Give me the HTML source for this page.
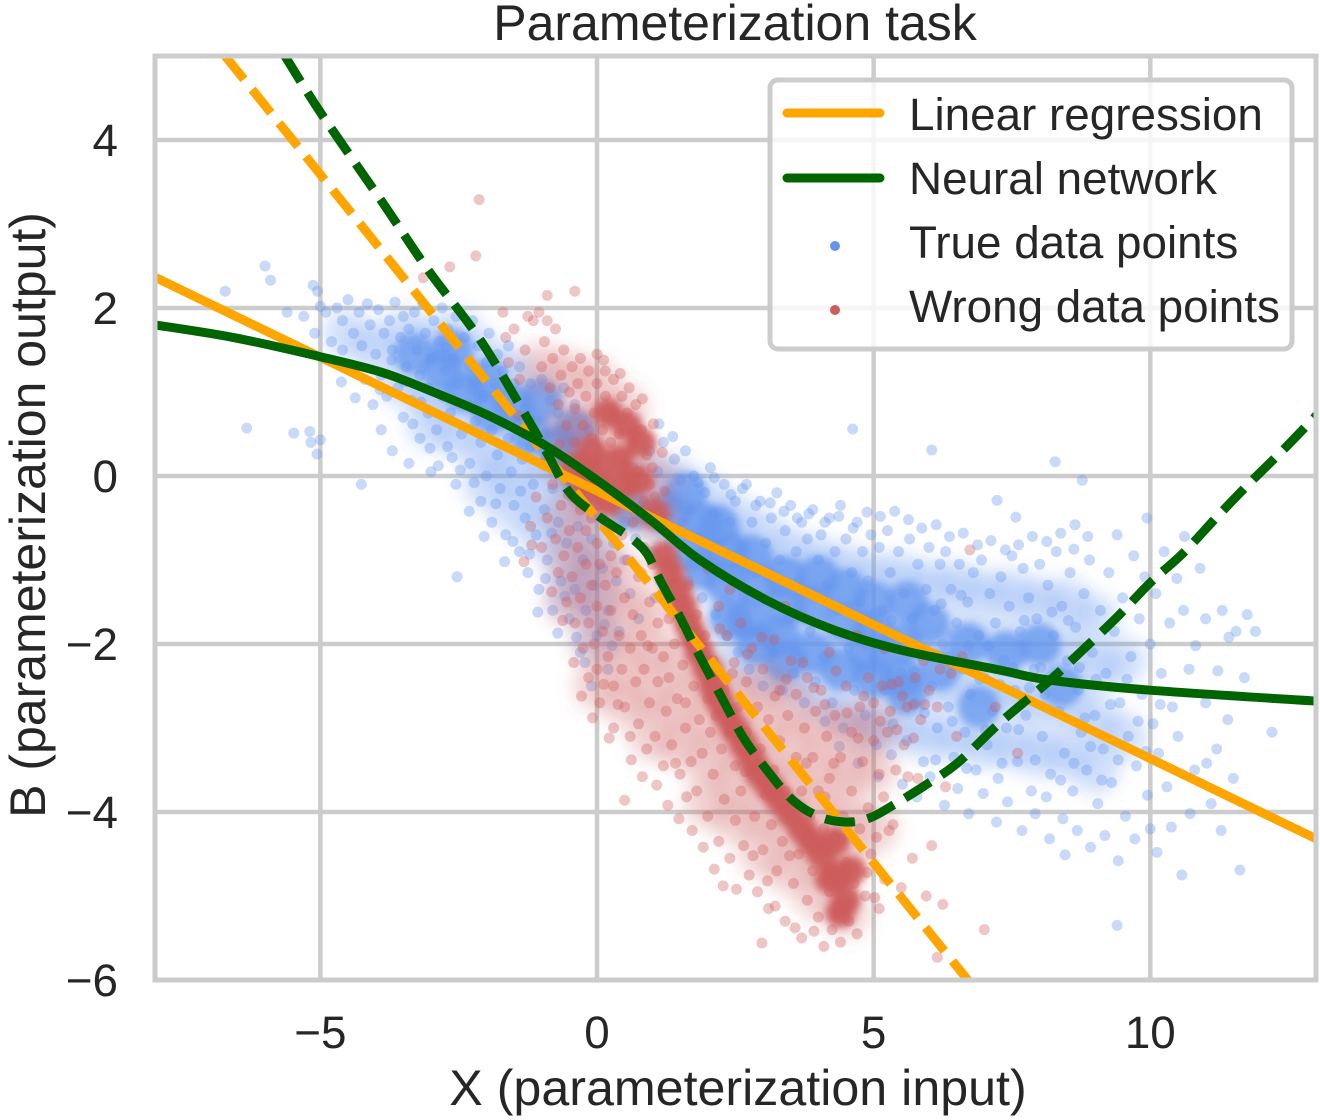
<!DOCTYPE html>
<html lang="en">
<head>
<meta charset="utf-8">
<title>Parameterization task</title>
<style>
html,body{margin:0;padding:0;background:#fff;}
svg{display:block;}
text{font-family:"Liberation Sans",Arial,sans-serif;fill:#262626;}
</style>
</head>
<body>
<svg id="chart" width="1320" height="1120" viewBox="0 0 1320 1120" xmlns="http://www.w3.org/2000/svg">
<defs>
<clipPath id="plot-clip"><rect x="155" y="56" width="1161" height="924"/></clipPath>
<filter id="soft" x="-10%" y="-10%" width="120%" height="120%"><feGaussianBlur stdDeviation="4"/></filter>
<filter id="softer" x="-10%" y="-10%" width="120%" height="120%"><feGaussianBlur stdDeviation="9"/></filter>
</defs>
<text x="735" y="40" font-size="50" text-anchor="middle">Parameterization task</text>
<g id="grid"></g>
<g id="marks" clip-path="url(#plot-clip)"></g>
<g id="spines" fill="none" stroke="#cccccc" stroke-width="5">
<rect x="155" y="56" width="1161" height="924"/>
</g>
<g id="ticks"></g>
<text x="738" y="1105" font-size="50.2" text-anchor="middle">X (parameterization input)</text>
<text transform="translate(45 515) rotate(-90)" font-size="50" text-anchor="middle">B (parameterization output)</text>
<g>
<rect x="770" y="80" width="522" height="269" rx="8" ry="8" fill="#ffffff" fill-opacity="0.8" stroke="#cccccc" stroke-width="5"/>
<line x1="787" y1="113" x2="880" y2="113" stroke="#FFA500" stroke-width="9" stroke-linecap="round"/>
<text x="909" y="130" font-size="45.8">Linear regression</text>
<line x1="787" y1="178" x2="880" y2="178" stroke="#006400" stroke-width="9" stroke-linecap="round"/>
<text x="909" y="194" font-size="45.8">Neural network</text>
<circle cx="835" cy="246" r="5" fill="#6495ED"/>
<text x="909" y="258" font-size="45.8">True data points</text>
<circle cx="835" cy="310" r="5" fill="#CD5C5C"/>
<text x="909" y="322" font-size="45.8">Wrong data points</text>
</g>
</svg>
<script>
const xTicks = [-5, 0, 5, 10];
const yTicks = [4, 2, 0, -2, -4, -6];

const linearSolidX = [-8, 13];
const linearSolidY = [2.37, -4.32];
const linearDashedX = [-6.72, 6.7];
const linearDashedY = [5, -6];

const neuralSolidX = [-8, -6.58, -5, -3.87, -2.96, -2.06, -1.45, -0.85, 0, 0.96, 1.86, 3.07, 4.27, 5.48, 7.28, 8.19, 10, 13];
const neuralSolidY = [1.8, 1.65, 1.42, 1.23, 1.0, 0.75, 0.55, 0.33, -0.05, -0.52, -1.0, -1.48, -1.83, -2.07, -2.31, -2.43, -2.55, -2.68];
const neuralDashedX = [-5.64, -5, -3.87, -3.05, -2.11, -1.27, -0.9, -0.49, 0.05, 0.6, 0.9, 1.14, 1.5, 1.86, 2.28, 2.64, 3.07, 3.54, 4.03, 4.52, 4.93, 5.35, 5.89, 6.51, 7.28, 8.19, 8.78, 9.4, 10, 10.59, 11.2, 11.8, 12.4, 13];
const neuralDashedY = [5, 4.33, 3.25, 2.45, 1.62, 0.7, 0.27, -0.2, -0.49, -0.73, -0.92, -1.24, -1.68, -2.15, -2.67, -3.11, -3.5, -3.86, -4.06, -4.12, -4.07, -3.92, -3.7, -3.42, -2.94, -2.43, -2.07, -1.68, -1.27, -0.92, -0.49, -0.08, 0.31, 0.72];

/* broad, medium-density extent of each overplotted cloud */
const trueBroad = [[-4.5,1.7],[-4,1.5],[-3.5,1.7],[-3.5,1.1],[-3,1.6],[-3,1.0],[-3,0.6],[-2.5,1.7],[-2.5,1.1],[-2.5,0.5],[-2,1.4],[-2,0.9],[-2,0.3],[-2,-0.1],[-1.5,1.2],[-1.5,0.6],[-1.5,0.1],[-1.5,-0.4],[-1,0.9],[-1,0.3],[-1,-0.2],[-1,-0.7],[-0.5,0.5],[-0.5,0],[-0.5,-0.5],[-0.5,-1],[-0.5,-1.4],[0,-0.3],[0,-0.9],[0,-1.4],[0,-1.9],[1,0],[1,-0.5],[1.5,-0.1],[1.5,-0.6],[2,-0.3],[2,-0.7],[2,-1.3],[2.5,-0.5],[2.5,-1],[2.5,-1.6],[2.5,-2.1],[3,-0.7],[3,-1.2],[3,-1.8],[3,-2.3],[3.5,-0.9],[3.5,-1.3],[3.5,-1.9],[3.5,-2.4],[4,-1],[4,-1.5],[4,-2.1],[4,-2.6],[4.5,-1.1],[4.5,-1.6],[4.5,-2.2],[4.5,-2.8],[5,-1.2],[5,-1.8],[5,-2.4],[5,-3],[5.5,-1.2],[5.5,-1.8],[5.5,-2.4],[5.5,-3],[6,-1.3],[6,-1.9],[6,-2.5],[6,-3.1],[6.5,-1.3],[6.5,-1.9],[6.5,-2.5],[6.5,-3.1],[7,-1.4],[7,-2],[7,-2.6],[7,-3.2],[7.5,-1.4],[7.5,-2],[7.5,-2.6],[7.5,-3.2],[8,-1.5],[8,-2.1],[8,-2.7],[8,-3.3],[8.5,-1.5],[8.5,-2.1],[8.5,-2.7],[8.5,-3.3],[9,-1.7],[9,-2.3],[9,-2.9],[9,-3.5],[9.5,-2.2],[9.5,-3.1]];
const wrongBroad = [[-1,1.3],[-0.5,1.2],[-0.5,0.6],[-0.5,0.1],[0,1.1],[0,0.6],[0,0.1],[0,-0.4],[0.5,0.8],[0.5,0.3],[0.5,-0.2],[1,0],[1,-0.5],[-0.5,-0.5],[-0.5,-1],[-0.5,-1.5],[0,-1],[0,-1.5],[0,-2],[0,-2.5],[0.5,-1.2],[0.5,-1.7],[0.5,-2.2],[0.5,-2.7],[1,-1.6],[1,-2.1],[1,-2.6],[1,-3.1],[1.5,-2.2],[1.5,-2.7],[1.5,-3.2],[2,-2.4],[2,-2.9],[2,-3.4],[2,-3.9],[2.5,-2.6],[2.5,-3.1],[2.5,-3.6],[2.5,-4.1],[3,-2.5],[3,-3],[3,-3.5],[3,-4],[3,-4.5],[3.5,-2.7],[3.5,-3.2],[3.5,-3.7],[3.5,-4.2],[3.5,-4.7],[4,-3],[4,-3.5],[4,-4],[4,-4.5],[4,-5],[4.5,-3],[4.5,-3.5],[4.5,-4],[4.5,-4.5],[4.5,-5.2],[5,-3],[5,-3.5],[5,-4.2]];

/* saturated centres of each cloud */
const trueDense = [[-3.3,1.45],[-2.8,1.25],[-2.4,1.0],[-2.6,1.5],[-2.0,1.15],[-1.9,0.75],[-1.5,0.85],[-1.2,0.5],[-1.0,0.9],[-0.7,0.35],[-0.4,0.55],[-0.3,0],[0.6,-0.4],[1.3,-0.45],[1.7,-0.9],[1.6,-0.2],[1.9,-1.1],[1.9,-0.55],[2.2,-0.6],[2.3,-1.25],[2.4,-1.7],[2.4,-0.9],[2.7,-1.7],[2.8,-0.95],[2.9,-1.3],[2.9,-2],[3.3,-1.9],[3.4,-1.2],[3.4,-1.55],[3.4,-2.2],[3.9,-2.1],[3.9,-1.55],[4,-1.2],[4.4,-2.3],[4.5,-1.75],[4.5,-1.35],[4.9,-2.1],[5,-2.4],[5,-1.85],[5,-1.5],[5.5,-2.0],[5.5,-2.4],[5.6,-2.6],[5.6,-1.5],[6,-1.75],[6.2,-2.3],[6.7,-2.0],[6.9,-2.75],[7.4,-2.1],[8,-2.0],[8.4,-2.5]];
const wrongDense = [[-0.1,0.3],[0.2,0.75],[0.4,0.2],[0.55,0.6],[-0.2,-0.2],[0.2,-0.3],[0.75,-0.05],[0.8,0.4],[-0.4,0.1],[0,0],[0.5,-0.1],[1.05,-0.45],[1.2,-0.95],[1.32,-1.15],[1.45,-1.35],[1.55,-1.55],[1.65,-1.75],[1.75,-1.92],[1.85,-2.1],[2,-2.3],[2.1,-2.5],[2.22,-2.68],[2.35,-2.85],[2.5,-3.02],[2.65,-3.2],[2.8,-3.38],[2.95,-3.55],[3.12,-3.7],[3.3,-3.85],[3.5,-4.02],[3.7,-4.2],[3.88,-4.35],[4.05,-4.5],[4.2,-4.8],[4.35,-4.75],[4.6,-4.7],[4.4,-5.2],[4.5,-5.05],[4.3,-4.35]];

const truePoints = [[-6,2.5],[-5.9,2.33],[-6.72,2.2],[-5.13,2.27],[-5.05,2.2],[-6.33,0.57],[-5.48,0.51],[-5.19,0.53],[-5,0.43],[-5.17,0.4],[-5.06,0.26],[-4.26,-0.1],[-5.6,1.95],[-5.3,1.9],[-5.1,1.7],[-4.9,1.95],[-4.8,1.6],[-5,2.02],[-4.7,2],[-4.6,1.5],[-4.6,1.85],[-4.5,2.1],[-4.4,1.7],[-4.4,1.3],[-4.3,1.95],[-4.25,1.55],[-4.2,1.15],[-4.15,2.05],[-4.1,1.8],[-4.05,0.85],[-4,1.45],[-3.95,1.98],[-3.9,0.55],[-3.9,1.2],[-3.85,1.7],[-3.8,0.95],[-3.75,1.85],[-3.7,0.3],[-3.7,1.5],[-3.65,2.07],[-3.6,1.05],[-3.55,1.65],[-3.5,0.7],[-3.5,1.9],[-3.45,1.3],[-3.4,0.15],[-3.4,1.75],[-3.35,0.9],[-3.3,1.95],[-3.25,1.5],[-3.2,0.45],[-3.2,1.2],[-3.15,2.05],[-3.1,1.7],[-3.05,0.75],[-3.05,1.05],[-3,1.4],[-3,0.05],[-2.95,1.85],[-2.9,0.55],[-2.85,1.6],[-2.8,0.95],[-2.8,2.0],[-2.75,1.25],[-2.7,0.35],[-2.7,1.75],[-2.65,0.75],[-2.6,1.4],[-2.55,-0.1],[-2.55,1.9],[-2.53,-1.2],[-2.5,1.1],[-2.45,0.5],[-2.4,1.65],[-2.35,0.85],[-2.3,1.3],[-2.3,0.15],[-2.25,1.85],[-2.2,0.65],[-2.2,1.1],[-2.15,1.55],[-2.1,-0.3],[-2.1,0.4],[-2.05,0.95],[-2,1.35],[-2,0],[-1.95,1.7],[-1.9,0.55],[-1.9,-0.55],[-1.85,1.1],[-1.8,0.25],[-1.8,1.45],[-1.75,-0.15],[-1.7,0.85],[-1.7,1.25],[-1.65,-0.7],[-1.6,0.45],[-1.6,1.55],[-1.55,0.05],[-1.5,1.1],[-1.5,-0.35],[-1.45,0.65],[-1.4,-0.9],[-1.4,1.3],[-1.35,0.2],[-1.3,0.8],[-1.3,-0.5],[-1.25,-1.15],[-1.2,0.35],[-1.2,1.1],[-1.15,-0.1],[-1.1,0.65],[-1.1,-0.7],[-1.05,-1.35],[-1,0.15],[-1,1.15],[-0.95,-0.4],[-0.9,0.5],[-0.9,-1],[-0.85,0.9],[-0.8,-0.15],[-0.8,-1.6],[-0.75,0.2],[-0.7,-0.55],[-0.7,0.75],[-0.65,-1.25],[-0.6,0.05],[-0.6,1.05],[-0.55,-0.8],[-0.5,0.4],[-0.5,-1.7],[-0.45,-0.25],[-0.4,0.85],[-0.4,-1.35],[-0.35,-0.6],[-0.3,0.25],[-0.3,-2.1],[-0.25,-1],[-0.2,-0.05],[-0.2,-1.6],[-0.15,0.55],[-0.1,-0.75],[-0.1,-2.5],[-0.05,-1.3],[0,0.1],[0,-1.9],[0.1,-0.5],[0.1,-1.1],[0.2,-1.6],[0.2,-2.3],[0.3,-0.8],[0.35,-1.25],[0.4,-1.85],[0.5,-0.55],[0.5,-1],[0.6,-1.4],[0.65,0.1],[0.7,-0.75],[0.75,-1.7],[0.8,-1.15],[0.9,-0.35],[0.95,0.3],[1,-0.9],[1.05,-1.45],[1.1,0.05],[1.15,-0.55],[1.2,0.4],[1.25,-0.2],[1.3,-0.8],[1.4,0.2],[1.45,-1],[1.5,-0.05],[1.55,-0.55],[1.6,0.3],[1.65,-1.25],[1.7,-0.4],[1.75,0],[1.8,-0.75],[1.9,-1.45],[1.95,-0.2],[2,-1],[2.05,0.1],[2.1,-0.45],[2.15,-1.65],[2.2,-0.8],[2.3,-0.1],[2.35,-1.9],[2.4,-0.55],[2.45,-1.2],[2.5,-0.3],[2.55,-2.1],[2.6,-0.85],[2.65,-1.45],[2.7,-0.1],[2.75,-2.3],[2.8,-0.55],[2.85,-1.85],[2.9,-1.15],[2.95,-0.3],[3,-2.5],[3.05,-0.8],[3.1,-1.5],[3.15,-0.5],[3.2,-2.1],[3.25,-0.2],[3.3,-1],[3.35,-2.55],[3.4,-0.65],[3.45,-1.7],[3.5,-0.35],[3.55,-2.35],[3.6,-0.9],[3.65,-1.25],[3.7,-0.55],[3.75,-2.7],[3.8,-0.75],[3.85,-1.85],[3.9,-0.4],[3.95,-2.45],[4,-1],[4.05,-0.7],[4.1,-2.15],[4.15,-1.3],[4.2,-0.5],[4.25,-2.7],[4.3,-0.9],[4.35,-1.6],[4.4,-0.35],[4.45,-3],[4.5,-0.75],[4.55,-2.05],[4.6,-1.15],[4.62,0.56],[4.65,-2.55],[4.7,-0.55],[4.75,-1.5],[4.8,-0.9],[4.85,-2.85],[4.9,-1.25],[4.95,-0.7],[5,-2.15],[5.05,-3.2],[5.1,-0.85],[5.15,-1.6],[5.2,-2.55],[5.25,-0.65],[5.3,-1.15],[5.35,-2.95],[5.4,-1.9],[5.45,-0.9],[5.5,-2.35],[5.55,-1.4],[5.6,-3.15],[5.65,-0.75],[5.7,-1.7],[5.75,-2.7],[5.8,-1.05],[5.85,-2.15],[5.9,-3.4],[5.95,-1.35],[6,-0.85],[6.05,0.31],[6.05,-2.5],[6.1,-1.6],[6.15,-3],[6.2,-1.05],[6.25,-2],[6.3,-0.9],[6.35,-2.75],[6.4,-1.35],[6.45,-3.35],[6.5,-1.75],[6.55,-1.05],[6.6,-2.3],[6.65,-3.05],[6.7,-1.5],[6.75,-2.6],[6.8,-1.15],[6.85,-3.5],[6.9,-1.9],[6.95,-1],[7,-2.4],[7.05,-3.2],[7.1,-1.4],[7.15,-2.8],[7.2,-1.75],[7.23,-0.29],[7.25,-3.6],[7.3,-1.2],[7.35,-2.2],[7.4,-3],[7.45,-1.55],[7.5,-0.95],[7.55,-2.55],[7.57,-0.49],[7.6,-3.4],[7.65,-1.85],[7.7,-1.1],[7.75,-2.85],[7.8,-1.45],[7.85,-3.75],[7.9,-2.3],[7.95,-1.7],[8,-1.05],[8.05,-3.1],[8.1,-2.6],[8.15,-1.3],[8.2,-3.55],[8.25,-1.9],[8.28,0.17],[8.3,-0.9],[8.35,-2.8],[8.4,-1.55],[8.45,-3.3],[8.46,-4.51],[8.5,-2.2],[8.55,-1.15],[8.6,-3.75],[8.64,-0.58],[8.65,-1.8],[8.7,-2.55],[8.75,-3.05],[8.77,-0.05],[8.8,-1.4],[8.85,-3.5],[8.9,-1],[8.95,-2.1],[9,-2.85],[9.05,-3.9],[9.1,-1.6],[9.15,-3.25],[9.2,-2.35],[9.25,-1.15],[9.3,-3.65],[9.35,-1.85],[9.4,-0.7],[9.4,-5.35],[9.45,-2.7],[9.5,-1.45],[9.55,-4.05],[9.6,-3.1],[9.65,-2.15],[9.7,-0.95],[9.75,-3.45],[9.8,-1.7],[9.85,-2.6],[9.9,-1.2],[9.94,-0.5],[9.95,-3.8],[10,-2],[10,-4.2],[10.05,-2.95],[10.1,-1.4],[10.15,-3.3],[10.2,-2.35],[10.25,-0.9],[10.3,-3.7],[10.35,-1.75],[10.4,-2.75],[10.5,-3.1],[10.57,-4.75],[10.6,-1.6],[10.7,-2.3],[10.8,-3.5],[10.9,-1.1],[11,-2.7],[11,-1.7],[11.1,-3.9],[11.2,-3.25],[11.3,-1.6],[11.4,-2.9],[11.5,-3.6],[11.55,-1.85],[11.62,-4.69],[11.7,-2.4],[11.75,-1.65],[11.9,-1.85],[12.2,-3.05]];

const trueExtra = [[-4.62,1.12],[-4.37,0.93],[-3.92,1.03],[-3.71,1.38],[-3.48,1.12],[-3.33,0.62],[-3.18,0.88],[-3.02,0.33],[-2.87,0.12],[-2.73,1.52],[-2.62,0.22],[-2.47,0.07],[-2.31,-0.42],[-2.22,-0.08],[-2.04,-0.72],[-1.83,-0.33],[-1.67,-1.02],[-1.52,-0.78],[-1.38,-0.18],[-1.22,-0.93],[-1.07,-1.62],[-0.93,-1.22],[-0.82,-0.68],[-0.71,-1.87],[-0.58,-1.43],[-0.37,-1.92],[-0.22,-2.22],[0.13,-1.77],[0.27,-2.02],[1.12,0.62],[1.37,0.47],[1.83,-0.08],[2.12,-0.02],[2.42,-0.22],[2.63,-0.15],[2.87,-0.35],[3.13,-0.32],[3.38,-0.42],[3.62,-0.5],[3.83,-0.45],[4.12,-0.55],[4.37,-0.48],[4.63,-0.62],[4.88,-0.43],[5.12,-0.48],[5.38,-0.42],[5.63,-0.52],[5.87,-0.62],[6.13,-0.58],[6.37,-0.72],[6.62,-0.68],[6.88,-0.82],[7.12,-0.77],[7.38,-0.88],[7.62,-0.82],[7.87,-0.72],[8.13,-0.78],[8.38,-0.68],[8.62,-0.87],[8.87,-0.72],[4.12,-2.92],[4.38,-3.22],[4.72,-3.42],[5.08,-3.58],[5.32,-3.32],[5.52,-3.67],[5.78,-3.82],[6.02,-3.58],[6.28,-3.92],[6.52,-3.72],[6.72,-4.02],[6.98,-3.78],[7.22,-4.12],[7.42,-3.88],[7.68,-4.22],[7.92,-4.02],[8.18,-4.32],[8.42,-4.08],[8.68,-4.22],[8.92,-4.42],[9.18,-4.28],[9.42,-4.58],[9.72,-4.32],[10.12,-4.48],[10.38,-4.18],[10.72,-4.02],[11.02,-3.42],[11.22,-2.32],[11.42,-1.92],[11.28,-4.22],[10.62,-0.72],[10.48,-1.22],[10.82,-2.02],[7.08,-2.02],[7.28,-2.48],[7.52,-2.28],[7.72,-1.72],[7.82,-2.52],[8.02,-2.28],[8.22,-1.62],[8.32,-2.38],[8.52,-1.72],[8.72,-2.28],[8.82,-2.88],[9.02,-2.42],[9.12,-3.62],[9.28,-2.72],[9.42,-3.38],[9.58,-2.42],[9.78,-2.92],[9.92,-3.28],[10.18,-2.72],[6.22,-1.52],[6.38,-2.22],[6.58,-1.42],[6.72,-2.02],[6.92,-2.42],[5.32,-1.72],[5.72,-2.32],[5.92,-2.82],[6.12,-3.38],[6.42,-2.92],[6.68,-3.48],[7.02,-3.02],[7.32,-3.42],[7.62,-3.02],[7.92,-3.38],[8.12,-3.82],[8.38,-3.62],[8.62,-3.42],[8.92,-3.22]];

const wrongPoints = [[-2.13,3.29],[-2.19,2.62],[-2.66,2.49],[-3.14,2.36],[-0.9,2.15],[-0.4,2.2],[7,-5.4],[6.15,-5.73],[2.98,-5.56],[0.5,-3.86],[6.74,-0.88],[-1.7,1.95],[-1.65,1.65],[-1.6,1.35],[-1.5,1.75],[-1.4,1.15],[-1.3,1.5],[-1.25,1.9],[-1.15,1.85],[-1.05,1.95],[-1,1.3],[-0.95,1.6],[-0.9,1.85],[-0.85,1.05],[-0.8,1.4],[-0.75,1.75],[-0.7,0.85],[-0.65,1.2],[-0.6,1.5],[-0.55,0.6],[-0.5,1],[-0.45,1.3],[-0.4,0.4],[-0.4,0.8],[-0.35,1.1],[-0.3,1.4],[-0.25,0.15],[-0.25,0.6],[-0.2,0.95],[-0.15,1.25],[-0.1,0.45],[-0.1,-0.1],[-0.05,0.75],[0,1.45],[0,1.1],[0.05,0.2],[0.05,-0.35],[0.1,0.55],[0.15,0.95],[0.15,1.25],[0.2,0],[0.25,0.4],[0.3,1.15],[0.3,0.75],[0.35,-0.25],[0.4,0.5],[0.45,0.95],[0.5,0.15],[0.55,0.75],[0.6,-0.15],[0.65,0.4],[0.7,0.85],[0.75,0.05],[0.8,0.55],[0.85,-0.3],[0.9,0.25],[0.95,-0.1],[1,0.1],[1.05,-0.25],[1.1,-0.55],[-1.2,-0.6],[-1.1,-0.25],[-1,-0.85],[-0.9,-0.5],[-0.8,-0.1],[-0.75,-0.75],[-0.7,-1.15],[-0.65,-0.35],[-0.6,-0.95],[-0.55,-1.5],[-0.5,-0.65],[-0.45,-0.1],[-0.45,-1.2],[-0.4,-1.75],[-0.35,-0.85],[-0.3,-0.4],[-0.3,-1.45],[-0.25,-2.05],[-0.2,-0.65],[-0.2,-1.05],[-0.15,-1.75],[-0.15,-2.4],[-0.1,-0.5],[-0.1,-1.3],[-0.05,-2],[0,-0.8],[0,-1.55],[0,-2.3],[0.05,-1.05],[0.05,-2.7],[0.1,-1.85],[0.15,-0.6],[0.15,-1.3],[0.2,-2.15],[0.25,-0.95],[0.25,-1.6],[0.3,-2.5],[0.3,-3],[0.35,-1.15],[0.4,-1.9],[0.45,-0.7],[0.45,-2.3],[0.5,-1.45],[0.5,-2.75],[0.55,-1],[0.6,-2.05],[0.6,-3.1],[0.65,-0.55],[0.65,-1.65],[0.7,-2.45],[0.75,-1.2],[0.75,-2.95],[0.8,-1.9],[0.85,-0.85],[0.85,-2.3],[0.9,-3.25],[0.95,-1.5],[0.95,-2.7],[1,-2.05],[1,-1.05],[1.05,-3.1],[1.1,-1.75],[1.1,-2.45],[1.15,-1.25],[1.2,-3.45],[1.2,-2.15],[1.25,-2.8],[1.3,-1.7],[1.3,-2.4],[1.35,-3.2],[1.4,-1.1],[1.4,-2],[1.45,-2.65],[1.5,-3.55],[1.5,-1.55],[1.55,-2.25],[1.6,-3],[1.6,-2.7],[1.65,-1.3],[1.7,-3.4],[1.7,-2],[1.75,-2.5],[1.8,-3.75],[1.8,-1.65],[1.85,-2.9],[1.9,-2.25],[1.9,-3.3],[1.95,-1.9],[2,-2.65],[2,-4.05],[2.05,-3.05],[2.1,-2.2],[2.1,-3.55],[2.15,-2.85],[2.2,-4.35],[2.2,-1.55],[2.25,-3.25],[2.3,-2.55],[2.3,-3.85],[2.35,-1.9],[2.4,-3.05],[2.4,-4.55],[2.45,-2.35],[2.5,-3.45],[2.5,-4.1],[2.55,-2.75],[2.6,-3.75],[2.6,-1.75],[2.65,-4.4],[2.7,-2.45],[2.7,-3.05],[2.75,-4.75],[2.8,-3.55],[2.8,-2.05],[2.85,-4.05],[2.9,-2.75],[2.9,-4.95],[2.95,-3.25],[3,-4.45],[3,-2.3],[3.05,-3.8],[3.1,-5.15],[3.1,-2.9],[3.15,-4.15],[3.2,-1.95],[3.2,-3.5],[3.25,-4.7],[3.3,-2.55],[3.3,-3.15],[3.35,-4.35],[3.4,-5.3],[3.4,-3.75],[3.45,-2.85],[3.5,-4.05],[3.5,-2.2],[3.55,-4.85],[3.6,-3.35],[3.6,-2.6],[3.65,-4.5],[3.7,-5.5],[3.7,-3.75],[3.75,-3],[3.8,-5.05],[3.8,-2.4],[3.85,-4.05],[3.9,-3.35],[3.9,-4.7],[3.95,-2.8],[4,-5.25],[4,-3.75],[4.05,-2.55],[4.1,-4.2],[4.1,-5.6],[4.15,-3.1],[4.2,-4.95],[4.2,-3.6],[4.25,-5.4],[4.3,-2.85],[4.3,-4.3],[4.35,-5.2],[4.4,-3.35],[4.4,-5.55],[4.45,-4.05],[4.5,-2.5],[4.5,-4.6],[4.55,-5.3],[4.6,-3.05],[4.6,-3.75],[4.65,-4.85],[4.7,-5.45],[4.75,-2.75],[4.75,-4.2],[4.8,-3.4],[4.85,-5],[4.9,-2.4],[4.9,-3.95],[4.95,-4.5],[5,-3.15],[5,-2.7],[5.05,-4.3],[5.1,-5.15],[5.1,-3.55],[5.15,-2.5],[5.2,-4.8],[5.25,-3.05],[5.3,-2.8],[5.35,-4.15],[5.4,-3.5],[5.45,-2.45],[5.5,-4.9],[5.55,-3.2],[5.6,-2.75],[5.7,-4.55],[5.75,-2.4],[5.8,-3.6],[5.85,-2.9],[5.95,-5],[6,-2.55],[6.05,-4.4],[6.15,-2.75],[6.25,-5.1],[6.3,-3.7],[6.4,-2.35],[6.5,-3.1],[2,-1.1],[2.4,-1.35],[3.4,-1.55],[4.2,-2.1],[4.7,-1.9],[5.2,-2.05],[5.9,-2.2],[6.2,-2.3],[6.6,-2.15],[7.6,-3.3],[7.2,-2.75]];

const wrongExtra = [[-1.42,0.72],[-1.12,0.48],[-0.92,0.22],[-0.68,0.38],[-0.52,-0.22],[-0.32,0.12],[0.12,1.38],[0.42,1.22],[0.58,1.05],[0.82,0.92],[1.02,0.62],[1.18,0.28],[1.22,-0.18],[-1.32,-1.02],[-1.18,-0.82],[-0.82,-1.38],[-0.62,-1.72],[-0.42,-2.22],[-0.28,-2.62],[-0.08,-2.88],[0.12,-2.48],[0.22,-3.12],[0.38,-2.72],[0.62,-3.38],[0.82,-3.58],[0.92,-2.02],[1.08,-3.68],[1.28,-3.92],[1.48,-4.08],[1.42,-3.42],[1.62,-3.82],[1.72,-4.22],[1.92,-4.42],[2.12,-4.68],[2.28,-4.88],[2.52,-4.92],[2.68,-3.52],[2.82,-4.52],[3.08,-4.82],[3.22,-5.12],[3.48,-4.52],[3.58,-5.38],[3.78,-3.42],[3.92,-5.42],[4.12,-3.82],[4.28,-3.42],[4.42,-4.32],[4.58,-4.12],[4.72,-3.12],[4.88,-4.72],[5.02,-5.02],[5.18,-3.82],[5.28,-4.22],[5.42,-3.02],[5.62,-3.58],[5.72,-3.12],[5.92,-2.72],[2.22,-1.82],[2.48,-2.22],[2.72,-2.12],[2.98,-1.92],[3.22,-2.62],[3.42,-2.42],[3.72,-2.22],[3.92,-2.52],[4.12,-2.72],[4.32,-2.32],[4.52,-2.82],[4.82,-2.62],[5.12,-2.92],[5.32,-2.48],[5.52,-2.62],[5.72,-2.72]];

const SVG_NS = 'http://www.w3.org/2000/svg';
const xScale = v => 597 + v * 55.33;
const yScale = v => 476 - v * 84;
const fmt = v => String(v).replace('-', '\u2212');
const grid = document.getElementById('grid');
const ticks = document.getElementById('ticks');
const marks = document.getElementById('marks');

xTicks.forEach(v => {
  const l = document.createElementNS(SVG_NS, 'line');
  
  
  l.setAttribute('x1', xScale(v)); l.setAttribute('x2', xScale(v));
  l.setAttribute('y1', 56); l.setAttribute('y2', 980);
  l.setAttribute('stroke', '#cccccc'); l.setAttribute('stroke-width', 4.5);
  grid.appendChild(l);
  const t = document.createElementNS(SVG_NS, 'text');
  
  
  t.setAttribute('x', xScale(v)); t.setAttribute('y', 1048);
  t.setAttribute('font-size', 45.8); t.setAttribute('text-anchor', 'middle');
  t.textContent = fmt(v);
  ticks.appendChild(t);
});
yTicks.forEach(v => {
  const l = document.createElementNS(SVG_NS, 'line');
  
  
  l.setAttribute('x1', 155); l.setAttribute('x2', 1316);
  l.setAttribute('y1', yScale(v)); l.setAttribute('y2', yScale(v));
  l.setAttribute('stroke', '#cccccc'); l.setAttribute('stroke-width', 4.5);
  grid.appendChild(l);
  const t = document.createElementNS(SVG_NS, 'text');
  
  
  t.setAttribute('x', 118); t.setAttribute('y', yScale(v) + 16);
  t.setAttribute('font-size', 45.8); t.setAttribute('text-anchor', 'end');
  t.textContent = fmt(v);
  ticks.appendChild(t);
});

function drawCloud(points, color, radius, opacity, filterId) {
  const g = document.createElementNS(SVG_NS, 'g');
  
  
  g.setAttribute('filter', 'url(#' + filterId + ')');
  points.forEach(p => {
    const c = document.createElementNS(SVG_NS, 'circle');
    
    
    c.setAttribute('cx', xScale(p[0])); c.setAttribute('cy', yScale(p[1]));
    c.setAttribute('r', radius); c.setAttribute('fill', color); c.setAttribute('fill-opacity', opacity);
    g.appendChild(c);
  });
  marks.appendChild(g);
}
function drawScatter(points, color) {
  const g = document.createElementNS(SVG_NS, 'g');
  
  
  points.forEach(p => {
    const c = document.createElementNS(SVG_NS, 'circle');
    
    
    c.setAttribute('cx', xScale(p[0])); c.setAttribute('cy', yScale(p[1]));
    c.setAttribute('r', 5.5); c.setAttribute('fill', color); c.setAttribute('fill-opacity', 0.35);
    g.appendChild(c);
  });
  marks.appendChild(g);
}
function smoothPath(xs, ys) {
  const px = xs.map(xScale), py = ys.map(yScale);
  let d = 'M' + px[0] + ' ' + py[0];
  for (let i = 0; i < px.length - 1; i++) {
    const a = Math.max(i - 1, 0), b = Math.min(i + 2, px.length - 1);
    const c1x = px[i] + (px[i + 1] - px[a]) / 6, c1y = py[i] + (py[i + 1] - py[a]) / 6;
    const c2x = px[i + 1] - (px[b] - px[i]) / 6, c2y = py[i + 1] - (py[b] - py[i]) / 6;
    d += ' C' + c1x + ' ' + c1y + ' ' + c2x + ' ' + c2y + ' ' + px[i + 1] + ' ' + py[i + 1];
  }
  return d;
}
function drawLine(xs, ys, color, dashed) {
  const p = document.createElementNS(SVG_NS, 'path');
  
  
  p.setAttribute('d', smoothPath(xs, ys));
  p.setAttribute('fill', 'none');
  p.setAttribute('stroke', color);
  p.setAttribute('stroke-width', 9);
  if (dashed) p.setAttribute('stroke-dasharray', '30 13');
  marks.appendChild(p);
}
drawCloud(trueBroad, '#6495ED', 24, 0.3, 'softer');
drawCloud(trueDense, '#6495ED', 21, 0.75, 'soft');
drawScatter(truePoints, '#6495ED');
drawScatter(trueExtra, '#6495ED');
drawCloud(wrongBroad, '#CD5C5C', 24, 0.28, 'softer');
drawCloud(wrongDense, '#CD5C5C', 15, 0.95, 'soft');
drawScatter(wrongPoints, '#CD5C5C');
drawScatter(wrongExtra, '#CD5C5C');
drawLine(linearDashedX, linearDashedY, '#FFA500', true);
drawLine(linearSolidX, linearSolidY, '#FFA500', false);
drawLine(neuralDashedX, neuralDashedY, '#006400', true);
drawLine(neuralSolidX, neuralSolidY, '#006400', false);
</script>
</body>
</html>
